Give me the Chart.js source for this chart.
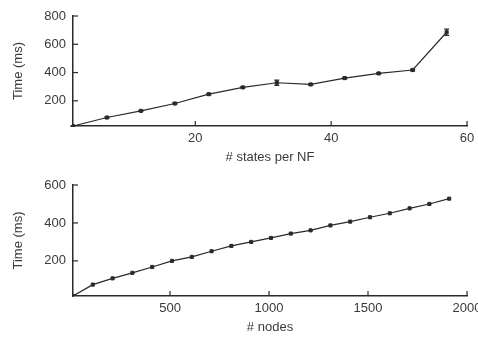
<!DOCTYPE html>
<html>
<head>
<meta charset="utf-8">
<script src="https://cdn.jsdelivr.net/npm/chart.js@4"></script>
<style>
  html, body { margin: 0; padding: 0; background: #fff; overflow: hidden; }
  #top { position: absolute; left: 0; top: 0; width: 478px; height: 165px; }
  #bottom { position: absolute; left: 0; top: 165px; width: 478px; height: 174px; }
</style>
</head>
<body>
<div id="top"><canvas id="statesChart"></canvas></div>
<div id="bottom"><canvas id="nodesChart"></canvas></div>
<script>
// top panel: time vs # states per NF
const statesX = [2, 7, 12, 17, 22, 27, 32, 37, 42, 47, 52, 57]
const statesTime = [22, 82, 129, 181, 247, 295, 328, 316, 361, 394, 418, 685]
const statesErr = [3, 4, 4, 4, 5, 5, 18, 6, 5, 6, 6, 22]
const statesXTicks = [20, 40, 60]
const statesYTicks = [200, 400, 600, 800]

// bottom panel: time vs # nodes
const nodesX = [10, 110, 210, 310, 410, 510, 610, 710, 810, 910, 1010, 1110, 1210, 1310, 1410, 1510, 1610, 1710, 1810, 1910]
const nodesTime = [15, 75, 108, 137, 168, 200, 221, 251, 279, 300, 321, 344, 361, 387, 407, 430, 451, 477, 500, 528]
const nodesXTicks = [500, 1000, 1500, 2000]
const nodesYTicks = [200, 400, 600]

const ink = '#2a2a2a'
const textColor = '#3a3a3a'
const font = { family: 'Liberation Sans, Arial, sans-serif', size: 13 }

// gnuplot-style ticks pointing into the plot
const innerTicks = {
    id: 'innerTicks',
    afterDatasetsDraw(chart) {
        const ctx = chart.ctx
        const area = chart.chartArea
        ctx.save()
        ctx.strokeStyle = ink
        ctx.lineWidth = 1.2
        Object.values(chart.scales).forEach(scale => {
            scale.ticks.forEach(t => {
                let p = scale.getPixelForValue(t.value)
                ctx.beginPath()
                if (scale.isHorizontal()) {
                    ctx.moveTo(p, area.bottom)
                    ctx.lineTo(p, area.bottom - 5)
                } else {
                    ctx.moveTo(area.left, p)
                    ctx.lineTo(area.left + 5, p)
                }
                ctx.stroke()
            })
        })
        ctx.restore()
    }
}

const errorBars = {
    id: 'errorBars',
    afterDatasetsDraw(chart) {
        const ctx = chart.ctx
        const xs = chart.scales.x, ys = chart.scales.y
        ctx.save()
        ctx.strokeStyle = ink
        ctx.lineWidth = 1.2
        chart.data.datasets.forEach(ds => {
            if (!ds.errors) return
            ds.data.forEach((pt, i) => {
                let e = ds.errors[i]
                let px = xs.getPixelForValue(pt.x)
                let y1 = ys.getPixelForValue(pt.y - e)
                let y2 = ys.getPixelForValue(pt.y + e)
                ctx.beginPath()
                ctx.moveTo(px, y1); ctx.lineTo(px, y2)
                ctx.moveTo(px - 2.5, y1); ctx.lineTo(px + 2.5, y1)
                ctx.moveTo(px - 2.5, y2); ctx.lineTo(px + 2.5, y2)
                ctx.stroke()
            })
        })
        ctx.restore()
    }
}

function makeChart(id, xs, ys, errs, opts) {
    let data = xs.map((x, i) => ({ x: x, y: ys[i] }))
    return new Chart(document.getElementById(id), {
        type: 'line',
        data: {
            datasets: [{
                data: data,
                errors: errs,
                borderColor: ink,
                backgroundColor: ink,
                borderWidth: 1.2,
                pointStyle: 'rect',
                pointRadius: 2.2,
                pointBorderWidth: 1,
                tension: 0
            }]
        },
        options: {
            responsive: true,
            maintainAspectRatio: false,
            animation: false,
            layout: { padding: { left: 0, right: 11, top: opts.top, bottom: 0 } },
            plugins: { legend: { display: false }, tooltip: { enabled: false } },
            scales: {
                x: {
                    type: 'linear',
                    min: opts.xMin,
                    max: opts.xMax,
                    afterBuildTicks: s => { s.ticks = opts.xTicks.map(v => ({ value: v })) },
                    afterFit: s => { s.height = opts.xHeight; s.paddingLeft = 0; s.paddingRight = 0 },
                    grid: { display: true, drawOnChartArea: false, drawTicks: false },
                    border: { display: true, color: ink, width: 1.5 },
                    ticks: { color: textColor, font: font, padding: 5, maxRotation: 0, callback: v => String(v) },
                    title: { display: true, text: opts.xTitle, color: textColor, font: font, padding: { top: 0, bottom: opts.titleBottom } }
                },
                y: {
                    type: 'linear',
                    min: opts.yMin,
                    max: opts.yMax,
                    afterBuildTicks: s => { s.ticks = opts.yTicks.map(v => ({ value: v })) },
                    afterFit: s => { s.width = 73; s.paddingTop = 0; s.paddingBottom = 0 },
                    grid: { display: true, drawOnChartArea: false, drawTicks: false },
                    border: { display: true, color: ink, width: 1.5 },
                    ticks: { color: textColor, font: font, padding: 7, callback: v => String(v) },
                    title: { display: true, text: 'Time (ms)', color: textColor, font: font, padding: { top: 11, bottom: 0 } }
                }
            }
        },
        plugins: [innerTicks, errorBars]
    })
}

makeChart('statesChart', statesX, statesTime, statesErr, {
    top: 16, xMin: 2, xMax: 60, yMin: 22, yMax: 800,
    xTicks: statesXTicks, yTicks: statesYTicks,
    xHeight: 39, xTitle: '# states per NF', titleBottom: 0
})
makeChart('nodesChart', nodesX, nodesTime, null, {
    top: 20, xMin: 10, xMax: 2000, yMin: 15, yMax: 600,
    xTicks: nodesXTicks, yTicks: nodesYTicks,
    xHeight: 43, xTitle: '# nodes', titleBottom: 4
})
</script>
</body>
</html>
